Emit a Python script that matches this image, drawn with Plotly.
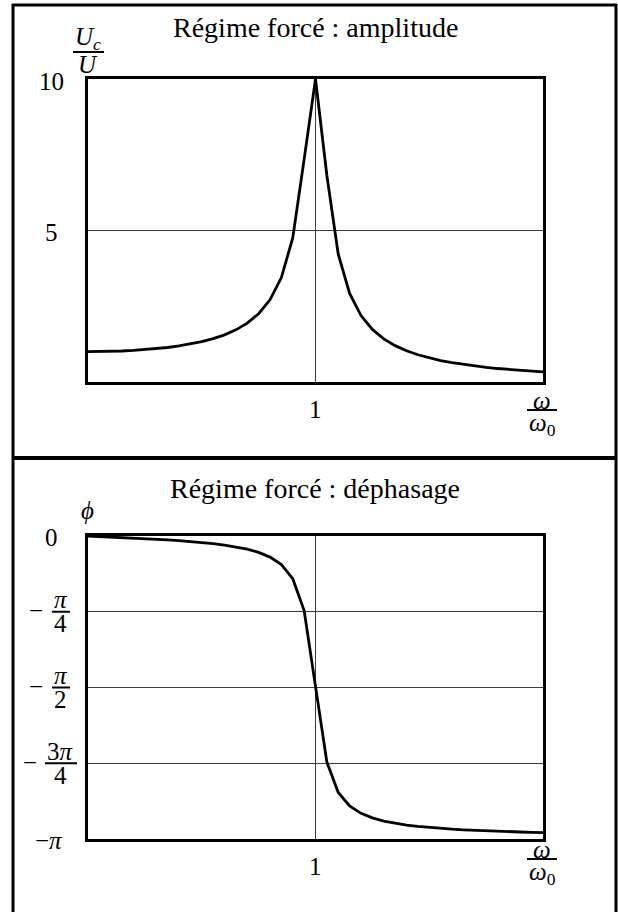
import math
import plotly.graph_objects as go

W, H = 618, 912
FONT = "Liberation Serif"
PI = math.pi

# ---------------- data ----------------
ratio = [0.00, 0.05, 0.10, 0.15, 0.20, 0.25, 0.30, 0.35, 0.40, 0.45,
         0.50, 0.55, 0.60, 0.65, 0.70, 0.75, 0.80, 0.85, 0.90, 0.95,
         1.00, 1.05, 1.10, 1.15, 1.20, 1.25, 1.30, 1.35, 1.40, 1.45,
         1.50, 1.55, 1.60, 1.65, 1.70, 1.75, 1.80, 1.85, 1.90, 1.95, 2.00]

amplitude = [1.000, 1.002, 1.010, 1.023, 1.041, 1.066, 1.098, 1.139, 1.189, 1.252,
             1.330, 1.429, 1.556, 1.721, 1.943, 2.253, 2.712, 3.446, 4.757, 7.346,
             10.000, 6.815, 4.218, 2.921, 2.193, 1.735, 1.424, 1.200, 1.031, 0.899,
             0.794, 0.709, 0.638, 0.578, 0.527, 0.483, 0.445, 0.412, 0.382, 0.356, 0.333]

phase = [0.0000, -0.0050, -0.0101, -0.0153, -0.0208, -0.0267, -0.0330, -0.0399, -0.0476, -0.0564,
         -0.0666, -0.0787, -0.0935, -0.1121, -0.1364, -0.1698, -0.2187, -0.2973, -0.4424, -0.7724,
         -1.5708, -2.3442, -2.6594, -2.7989, -2.8753, -2.9229, -2.9554, -2.9789, -2.9968, -3.0108,
         -3.0222, -3.0315, -3.0394, -3.0461, -3.0519, -3.0569, -3.0614, -3.0654, -3.0689, -3.0721, -3.0750]

amp_grid = [5]
amp_tick_vals = [10, 5]
amp_tick_text = ["10", "5"]
ratio_tick_vals = [1]
ratio_tick_text = ["1"]
phase_grid = [-PI / 4, -PI / 2, -3 * PI / 4]
titles = ["Régime forcé : amplitude", "Régime forcé : déphasage"]


def px(x):
    return x / W


def py(y):
    return 1 - y / H


fig = go.Figure()
fig.add_trace(go.Scatter(x=ratio, y=amplitude, mode="lines",
                         line=dict(color="black", width=2.8),
                         xaxis="x", yaxis="y", showlegend=False))
fig.add_trace(go.Scatter(x=ratio, y=phase, mode="lines",
                         line=dict(color="black", width=2.8),
                         xaxis="x2", yaxis="y2", showlegend=False))

axis_common = dict(showline=True, mirror=True, linewidth=3, linecolor="black",
                   showticklabels=False, ticks="", zeroline=False,
                   showgrid=True, gridcolor="#3a3a3a", gridwidth=1, fixedrange=True)

x_dom = [px(88), px(543)]
fig.update_layout(
    width=W, height=H,
    margin=dict(l=0, r=0, t=0, b=0),
    paper_bgcolor="white", plot_bgcolor="white",
    showlegend=False,
    xaxis=dict(domain=x_dom, range=[0, 2], tickvals=ratio_tick_vals, anchor="y", **axis_common),
    yaxis=dict(domain=[py(382), py(79)], range=[0, 10], tickvals=amp_grid, anchor="x", **axis_common),
    xaxis2=dict(domain=x_dom, range=[0, 2], tickvals=ratio_tick_vals, anchor="y2", **axis_common),
    yaxis2=dict(domain=[py(839), py(536)], range=[-PI, 0], tickvals=phase_grid, anchor="x2", **axis_common),
)

TS = 25  # label size
anns = []
shapes = []


def ann(text, x, y, xref="paper", yref="paper", size=TS, xanchor="center", yanchor="middle", yshift=0):
    anns.append(dict(text=text, x=x, y=y, xref=xref, yref=yref, showarrow=False,
                     font=dict(family=FONT, size=size, color="black"),
                     xanchor=xanchor, yanchor=yanchor, yshift=yshift, borderpad=0))


def hbar(x0, x1, y, yref="paper", width=2):
    shapes.append(dict(type="line", xref="paper", yref=yref, x0=x0, x1=x1, y0=y, y1=y,
                       line=dict(color="black", width=width)))


# titles
ann(titles[0], px(315), py(28), size=28)
ann(titles[1], px(315), py(488), size=28)

# top y label Uc/U
ann("<i>U</i><sub><i>c</i></sub>", px(88), py(39))
hbar(px(73), px(104), py(52))
ann("<i>U</i>", px(88), py(64))

# top y ticks
for v, t in zip(amp_tick_vals, amp_tick_text):
    ann(t, px(51), v, yref="y", yshift=-2)

# x tick "1" (both panels)
for v, t in zip(ratio_tick_vals, ratio_tick_text):
    ann(t, v, py(409), xref="x")
    ann(t, v, py(866), xref="x2")

# omega / omega0 labels
for ybar in (410, 859):
    ann("<i>ω</i>", px(542), py(ybar - 10))
    hbar(px(527), px(557), py(ybar))
    ann("<i>ω</i><sub>0</sub>", px(542), py(ybar + 14))

# phi label
ann("<i>ϕ</i>", px(87), py(510))

# phase ticks
ann("0", px(51), 0, yref="y2", yshift=-1)
ann("−<i>π</i>", px(49), -PI, yref="y2", yshift=-1)
frac = [(-PI / 4, "<i>π</i>", "4", 36, 61, 52, 70),
        (-PI / 2, "<i>π</i>", "2", 36, 61, 52, 70),
        (-3 * PI / 4, "3<i>π</i>", "4", 30, 61, 45, 77)]
for v, num, den, xm, xc, xb0, xb1 in frac:
    ann("−", px(xm), v, yref="y2", yshift=1)
    ann(num, px(xc), v, yref="y2", yshift=12)
    hbar(px(xb0), px(xb1), v, yref="y2")
    ann(den, px(xc), v, yref="y2", yshift=-12)

# outer frame
frame = dict(color="black", width=3)
shapes.append(dict(type="line", xref="paper", yref="paper", x0=px(13), x1=px(13), y0=py(4), y1=py(912), line=frame))
shapes.append(dict(type="line", xref="paper", yref="paper", x0=px(616), x1=px(616), y0=py(4), y1=py(912), line=frame))
shapes.append(dict(type="line", xref="paper", yref="paper", x0=px(12), x1=px(617), y0=py(5), y1=py(5), line=frame))
shapes.append(dict(type="line", xref="paper", yref="paper", x0=px(12), x1=px(617), y0=py(458), y1=py(458),
                   line=dict(color="black", width=4)))

fig.update_layout(annotations=anns, shapes=shapes)
fig.write_html("out.html", config={"displayModeBar": False},
               post_script="document.body.style.margin='0';document.body.style.overflow='hidden';")
